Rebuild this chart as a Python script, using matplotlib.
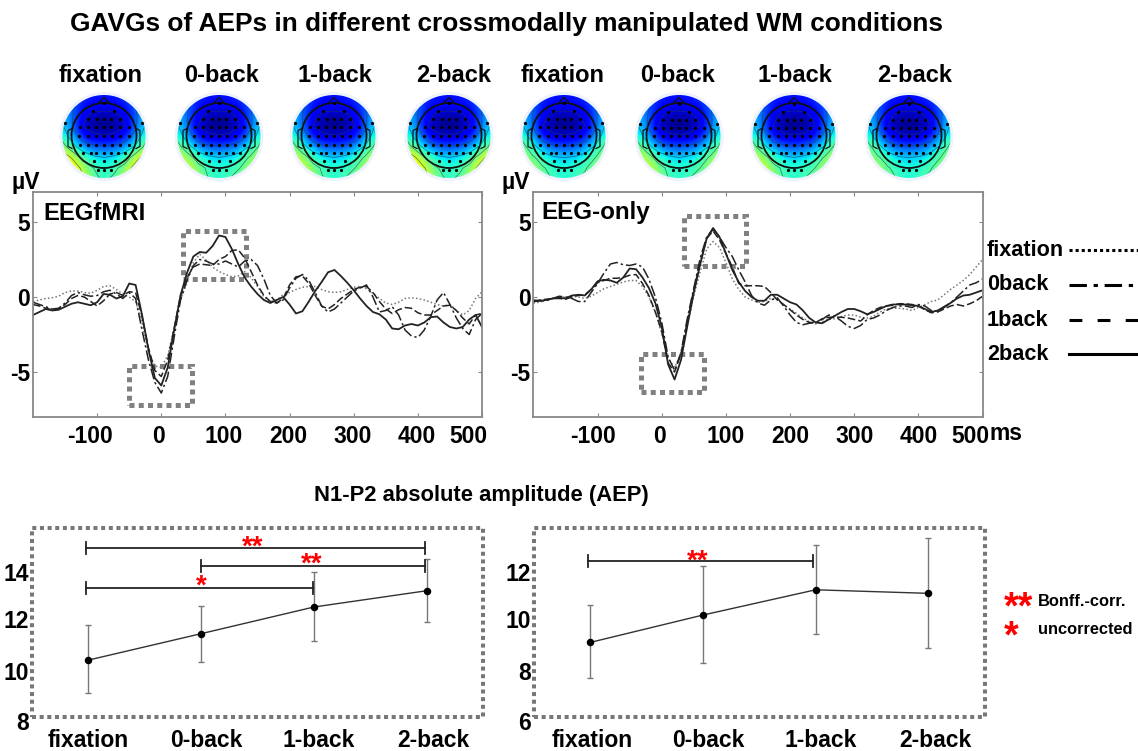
import numpy as np
import matplotlib
matplotlib.use('Agg')
from matplotlib import pyplot as plt
from matplotlib.patches import Circle, Rectangle
from matplotlib.lines import Line2D
from matplotlib.transforms import ScaledTranslation

W, H = 1138, 751

plt.rcParams['font.family'] = ['Liberation Sans', 'DejaVu Sans']
plt.rcParams['font.weight'] = 'bold'
plt.rcParams['axes.unicode_minus'] = False

# ERP curves, one value every 10 ms from -200 to 500
times = list(range(-200, 501, 10))

eeg_fmri_fixation = [
    -.3, -.2, -.1, -.05, .05, .3, .4, .4, .3, .25,
    .45, .7, .75, .5, .2, 0, -.3, -1.7, -3.7, -4.6,
    -4.7, -3.9, -2.1, -.2, 1.0, 2.3, 2.85, 2.45, 2.0, 1.7,
    1.5, 1.35, 1.4, 1.7, 1.3, .7, 0, -.3, -.2, .15,
    .3, .5, .65, .7, .7, .5, .35, .3, .35, .5,
    .65, .7, .55, .25, -.1, -.4, -.5, -.35, -.1, -.05,
    -.1, -.2, -.35, -.5, -.6, -.5, -.9, -1.2, -.9, -.1, .35]
eeg_fmri_0back = [
    -.35, -.5, -.65, -.8, -.75, -.4, .1, .3, .15, .05,
    .1, .35, .45, .2, -.1, .3, -.1, -2.2, -4.2, -5.7,
    -6.4, -5.3, -2.7, -.2, 1.1, 2.1, 2.5, 2.4, 2.2, 2.2,
    2.4, 2.2, 2.0, 2.4, 2.5, 2.1, 1.2, .1, -.4, -.2,
    .6, 1.25, 1.5, 1.1, .3, -.6, -1.0, -.8, -.4, 0,
    .4, .6, .8, 0, -1.0, -.9, -.65, -1.2, -2.2, -2.6,
    -2.7, -2.2, -1.3, -.2, .3, -.5, -1.4, -2.1, -2.5, -1.5, -1.1]
eeg_fmri_1back = [
    -.5, -.6, -.75, -.85, -.8, -.5, -.1, .1, 0, -.3,
    -.6, -.25, .2, .3, .1, .35, .3, -1.3, -3.4, -4.9,
    -5.3, -4.2, -2.1, .1, 1.3, 2.0, 2.2, 2.15, 2.1, 2.5,
    2.7, 3.1, 3.15, 2.6, 1.7, .8, .1, -.3, -.4, -.1,
    .8, 1.35, 1.4, .9, .1, -.6, -.8, -.5, -.1, .2,
    .5, .65, .7, .3, -.3, -.8, -1.1, -.85, -.7, -.75,
    -1.05, -1.2, -1.2, -.9, -.6, -.55, -.9, -1.4, -1.8, -1.2, -1.1]
eeg_fmri_2back = [
    -1.2, -1.0, -.8, -.9, -.85, -.65, -.45, -.35, -.45, -.55,
    -.35, .2, .15, -.1, .05, .9, .8, -1.2, -3.5, -5.4,
    -5.9, -4.7, -2.2, .1, 1.6, 2.7, 3.0, 2.95, 3.4, 4.1,
    4.0, 3.2, 2.2, 1.3, .7, .2, -.2, -.4, -.2, 0,
    -.5, -1.1, -.95, -.3, .4, 1.0, 1.65, 1.8, 1.4, .95,
    .45, -.1, -.6, -1.0, -1.15, -1.5, -2.1, -2.15, -1.9, -1.8,
    -1.9, -1.7, -1.35, -1.3, -1.7, -2.0, -2.1, -2.0, -1.5, -1.2, -2.0]

eeg_only_fixation = [
    -.4, -.35, -.2, -.1, -.05, 0, .05, 0, -.1, .05,
    .3, .55, .7, .85, 1.0, 1.1, 1.1, .7, 0, -1.0,
    -2.4, -4.1, -4.7, -3.8, -1.8, .1, 1.7, 3.2, 3.7, 3.3,
    2.3, 1.2, .5, 0, -.2, -.35, -.3, -.1, -.15, -.55,
    -.8, -1.1, -1.4, -1.65, -1.8, -1.65, -1.5, -1.45, -1.3, -1.2,
    -1.2, -1.35, -1.4, -1.3, -1.0, -.8, -.75, -.75, -.8, -.9,
    -.7, -.5, -.3, -.2, .15, .5, .8, 1.1, 1.5, 2.0, 2.5]
eeg_only_0back = [
    -.2, -.25, -.25, -.1, .05, 0, -.1, -.3, -.3, .3,
    .9, 1.6, 2.2, 2.3, 2.15, 2.1, 2.2, 2.0, 1.2, 0,
    -1.7, -4.0, -4.9, -3.7, -1.4, .6, 2.6, 4.0, 4.5, 4.0,
    3.3, 2.7, 1.8, 1.0, .1, -.4, -.55, -.2, -.05, -.6,
    -1.2, -1.7, -1.85, -1.75, -1.7, -1.5, -1.2, -1.3, -1.6, -1.95,
    -2.1, -1.9, -1.5, -1.4, -1.2, -.9, -.7, -.6, -.6, -.7,
    -.5, -.6, -.9, -.95, -.7, -.4, 0, .4, .8, .95, 1.2]
eeg_only_1back = [
    -.3, -.2, -.15, -.1, -.1, -.15, 0, .1, .15, .5,
    .95, 1.1, 1.25, 1.25, 1.3, 1.45, 1.5, .9, .1, -1.0,
    -2.3, -4.4, -5.0, -3.8, -1.6, .5, 2.3, 3.9, 4.4, 3.8,
    2.9, 2.0, .9, .75, .75, .75, .7, .3, -.2, -.5,
    -.85, -1.2, -1.5, -1.7, -1.7, -1.45, -1.35, -1.35, -1.35, -1.4,
    -1.5, -1.6, -1.2, -.9, -.7, -.6, -.55, -.45, -.45, -.5,
    -.6, -.85, -1.05, -1.0, -.8, -.6, -.5, -.6, -.45, -.25, .05]
eeg_only_2back = [
    -.3, -.25, -.2, -.1, -.05, -.1, .1, .15, .1, .5,
    1.05, 1.15, 1.1, .95, 1.3, 1.9, 1.85, 1.3, .6, -.4,
    -2.0, -4.5, -5.5, -4.2, -1.9, .3, 2.2, 3.9, 4.6, 4.0,
    2.9, 1.8, 1.0, .4, 0, -.25, -.25, .15, .15, -.1,
    -.35, -.5, -.9, -1.4, -1.7, -1.75, -1.5, -1.25, -1.0, -.8,
    -.8, -.95, -1.15, -1.0, -.8, -.6, -.5, -.5, -.5, -.55,
    -.6, -.8, -1.0, -.9, -.65, -.4, -.1, .1, .15, .3, .45]

# N1-P2 amplitudes
conditions = ['fixation', '0-back', '1-back', '2-back']
amp_fmri = [10.4, 11.52, 12.65, 13.34]
amp_fmri_hi = [11.87, 12.7, 14.13, 14.67]
amp_fmri_lo = [9.0, 10.33, 11.2, 12.0]
amp_only = [9.15, 10.31, 11.38, 11.23]
amp_only_hi = [10.72, 12.37, 13.26, 13.58]
amp_only_lo = [7.63, 8.26, 9.5, 8.9]

# scalp potential on a coarse grid, 0 = most negative, rows run front to back
topo_front = [
    [.20, .18, .15, .14, .14, .14, .16, .20, .24],
    [.26, .20, .12, .10, .10, .10, .12, .18, .26],
    [.30, .18, .08, .04, .03, .04, .08, .16, .30],
    [.32, .18, .06, .02, .00, .02, .06, .16, .32],
    [.38, .24, .12, .08, .07, .08, .12, .22, .38],
    [.48, .34, .24, .20, .19, .20, .24, .32, .46]]
topo_back_yellow = [
    [.64, .52, .38, .32, .30, .32, .36, .48, .62],
    [.68, .64, .50, .42, .38, .40, .46, .60, .66],
    [.68, .66, .56, .45, .40, .44, .52, .62, .68]]
topo_back_green = [
    [.56, .48, .37, .32, .30, .32, .35, .44, .54],
    [.62, .56, .46, .40, .38, .39, .42, .50, .58],
    [.62, .60, .50, .42, .40, .42, .46, .54, .60]]
topo_back_light = [
    [.50, .44, .36, .31, .30, .31, .34, .42, .50],
    [.56, .50, .43, .38, .37, .38, .41, .47, .54],
    [.56, .54, .46, .41, .39, .41, .44, .50, .56]]
topo_backs = [topo_back_yellow, topo_back_green, topo_back_green, topo_back_yellow,
              topo_back_light, topo_back_green, topo_back_green, topo_back_light]
topo_labels = ['fixation', '0-back', '1-back', '2-back'] * 2
topo_centers = [104, 219, 334, 449, 564, 679, 794, 909]
topo_label_x = [101, 222, 335, 454, 563, 678, 795, 915]

# electrode rows, offset from the head centre in pixels
electrode_rows = [
    (-33, [0]),
    (-25, [-11, 10]),
    (-17, [-16, -7, 0, 7, 16]),
    (-9, [-24, -16, -8, 0, 7, 16, 25]),
    (-1, [-25, -16, -8, 0, 8, 16, 25]),
    (8, [-24, -16, -8, 0, 8, 16, 25]),
    (16, [-21, -13, -8, 0, 7, 14, 21]),
    (24, [-10, 0, 11]),
    (33, [-6, 0, 7]),
    (-13, [-39, 38])]

fig = plt.figure(figsize=(W / 100, H / 100), dpi=100)


def place(l, t, r, b):
    return fig.add_axes([l / W, 1 - b / H, (r - l) / W, (b - t) / H])


def shift_labels(labels, dx=None, dy=None):
    for i, lab in enumerate(labels):
        ox = dx[i] if dx else 0
        oy = dy[i] if dy else 0
        lab.set_transform(lab.get_transform() + ScaledTranslation(ox / 100, oy / 100, fig.dpi_scale_trans))


def draw_erp(ax, fixation, back0, back1, back2, boxes, xshift):
    ax.plot(times, fixation, color='#777777', lw=1.1, ls=(0, (1, 1.5)))
    ax.plot(times, back0, color='#222222', lw=1.1, ls=(0, (7, 2, 1.5, 2)))
    ax.plot(times, back1, color='#222222', lw=1.1, ls=(0, (5, 2)))
    ax.plot(times, back2, color='#222222', lw=1.3)
    ax.set_xlim(-200, 500)
    ax.set_ylim(-8, 7)
    ax.set_xticks([-100, 0, 100, 200, 300, 400, 500])
    ax.set_yticks([-5, 0, 5])
    ax.tick_params(direction='in', length=3, width=.8, color='#888888', top=True, right=True, labelsize=16.5)
    ax.tick_params(axis='x', pad=5.5)
    ax.tick_params(axis='y', pad=2)
    shift_labels(ax.get_xticklabels(), dx=xshift)
    for s in ax.spines.values():
        s.set_color('#888888')
        s.set_linewidth(1.3)
    for x0, x1, y0, y1 in boxes:
        ax.add_patch(Rectangle((x0, y0), x1 - x0, y1 - y0, fill=False, ec='#808080', lw=3.6,
                               ls=(0, (1, .85)), clip_on=False))


def draw_amp(ax, vals, hi, lo, ymin, brackets):
    x = [1, 2, 3, 4]
    err = [np.subtract(vals, lo), np.subtract(hi, vals)]
    ax.errorbar(x, vals, yerr=err, color='#333333', lw=1, ecolor='#777777', elinewidth=1, capsize=2.5,
                marker='o', ms=4.4, mfc='black', mec='black')
    ax.set_xlim(.5, 4.5)
    ax.set_ylim(ymin, ymin + 8)
    ax.set_xticks(x)
    ax.set_xticklabels(conditions)
    ax.set_yticks([ymin, ymin + 2, ymin + 4, ymin + 6])
    ax.tick_params(length=0, labelsize=16.5)
    ax.tick_params(axis='x', pad=8.5)
    ax.tick_params(axis='y', pad=2)
    shift_labels(ax.get_yticklabels(), dy=[-4, -1, 3, 3])
    for s in ax.spines.values():
        s.set_visible(False)
    ax.add_patch(Rectangle((0, 0), 1, 1, transform=ax.transAxes, fill=False, ec='#777777', lw=2.9,
                           ls=(0, (1, .9)), clip_on=False))
    for x0, x1, y, cap in brackets:
        ax.plot([x0, x1], [y, y], color='#222222', lw=1.3)
        ax.plot([x0, x0], [y - cap, y + cap], color='#222222', lw=1.3)
        ax.plot([x1, x1], [y - cap, y + cap], color='#222222', lw=1.3)


# scalp maps
for cx, back in zip(topo_centers, topo_backs):
    ax = place(cx - 46, 136.5 - 46, cx + 46, 136.5 + 46)
    ax.set_xlim(-46, 46)
    ax.set_ylim(46, -46)
    ax.axis('off')
    grid = np.array(topo_front + back)
    ax.add_patch(Circle((0, 0), 44.5, fc='#edf2fc', ec='none', zorder=-1))
    disc = Circle((0, 0), 41.5, transform=ax.transData)
    im = ax.imshow(grid, cmap='jet', vmin=0, vmax=1, extent=(-42, 42, 42, -42), interpolation='bicubic')
    im.set_clip_path(disc)
    gx = np.linspace(-42, 42, 9)
    cs = ax.contour(gx, gx, grid, levels=[.06, .18, .3, .42, .54, .66], colors='#1a3a4a', linewidths=.5, alpha=.7)
    cs.set_clip_path(disc)
    ax.set_xlim(-46, 46)
    ax.set_ylim(46, -46)
    ax.add_patch(Circle((0, -1), 32.5, fill=False, ec='#111111', lw=1.3))
    ax.plot([-6, 0, 6], [-33, -39, -33], color='#111111', lw=.9)
    for side in [-1, 1]:
        ax.plot([side * 32, side * 36, side * 36, side * 32], [-8, -6, 10, 12], color='#111111', lw=.9)
    for ey, exs in electrode_rows:
        ax.plot(exs, [ey] * len(exs), ls='none', marker='o', ms=1.3, color='black')

# ERP panels
ax1 = place(33, 192, 482, 417)
draw_erp(ax1, eeg_fmri_fixation, eeg_fmri_0back, eeg_fmri_1back, eeg_fmri_2back,
         [(-50, 48, -7.2, -4.6), (34, 132, 1.2, 4.4)], [-7, -3, -2, -1, -1, -1, -14])
ax2 = place(533.4, 192, 982.6, 417)
draw_erp(ax2, eeg_only_fixation, eeg_only_0back, eeg_only_1back, eeg_only_2back,
         [(-32, 66, -6.3, -3.8), (34, 132, 2.1, 5.4)], [-5, -2, 0, 0, 0, 0, -12])

# amplitude panels
ax3 = place(32, 528, 483, 716.7)
draw_amp(ax3, amp_fmri, amp_fmri_hi, amp_fmri_lo, 8,
         [(.98, 3.99, 15.16, .25), (2, 3.99, 14.4, .25), (.98, 2.99, 13.47, .25)])
shift_labels(ax3.get_xticklabels(), dx=[0, 5, 5, 7])
ax4 = place(534, 528, 984.6, 716.7)
draw_amp(ax4, amp_only, amp_only_hi, amp_only_lo, 6, [(.98, 2.98, 12.6, .27)])
shift_labels(ax4.get_xticklabels(), dx=[2, 5, 5, 7])

# everything placed by pixel goes on a full figure overlay
ov = fig.add_axes([0, 0, 1, 1], zorder=10)
ov.set_xlim(0, W)
ov.set_ylim(H, 0)
ov.axis('off')


def put(x, y, s, size=16.5, ha='center', color='black'):
    ov.text(x, y, s, fontsize=size, ha=ha, va='center', color=color)


def stars(x, y, s, size=20):
    ov.text(x, y + size * .64, s, fontsize=size, ha='center', va='baseline', color='red')


put(507, 24, 'GAVGs of AEPs in different crossmodally manipulated WM conditions', size=18.9)
put(481, 495, 'N1-P2 absolute amplitude (AEP)', size=15.8)
for x, lab in zip(topo_label_x, topo_labels):
    put(x, 75, lab, size=17)
put(26, 183, 'µV', size=16.5)
put(516, 183, 'µV', size=16.5)
put(43, 213, 'EEGfMRI', ha='left', size=17.2)
put(541, 212, 'EEG-only', ha='left', size=17.4)
put(990, 433, 'ms', ha='left', size=16.5)

legend_names = ['fixation', '0back', '1back', '2back']
legend_y = [250, 285, 320, 354]
legend_styles = [(0, (1, 1)), (0, (5.7, 2.2, 1.4, 2.2)), (0, (4.2, 5)), '-']
for name, y, st in zip(legend_names, legend_y, legend_styles):
    put(987, y, name, ha='left', size=15.6)
    ov.add_line(Line2D([1069, 1140], [y, y], color='black', lw=2.2, ls=st))

stars(253, 542, '**')
stars(311.7, 559, '**')
stars(201, 581, '*')
stars(698, 556, '**')
stars(1018, 601.7, '**', size=27)
stars(1011, 630, '*', size=27)
put(1038, 601.7, 'Bonff.-corr.', ha='left', size=11.8)
put(1038, 630, 'uncorrected', ha='left', size=11.8)

fig.savefig('out.png', dpi=100)
